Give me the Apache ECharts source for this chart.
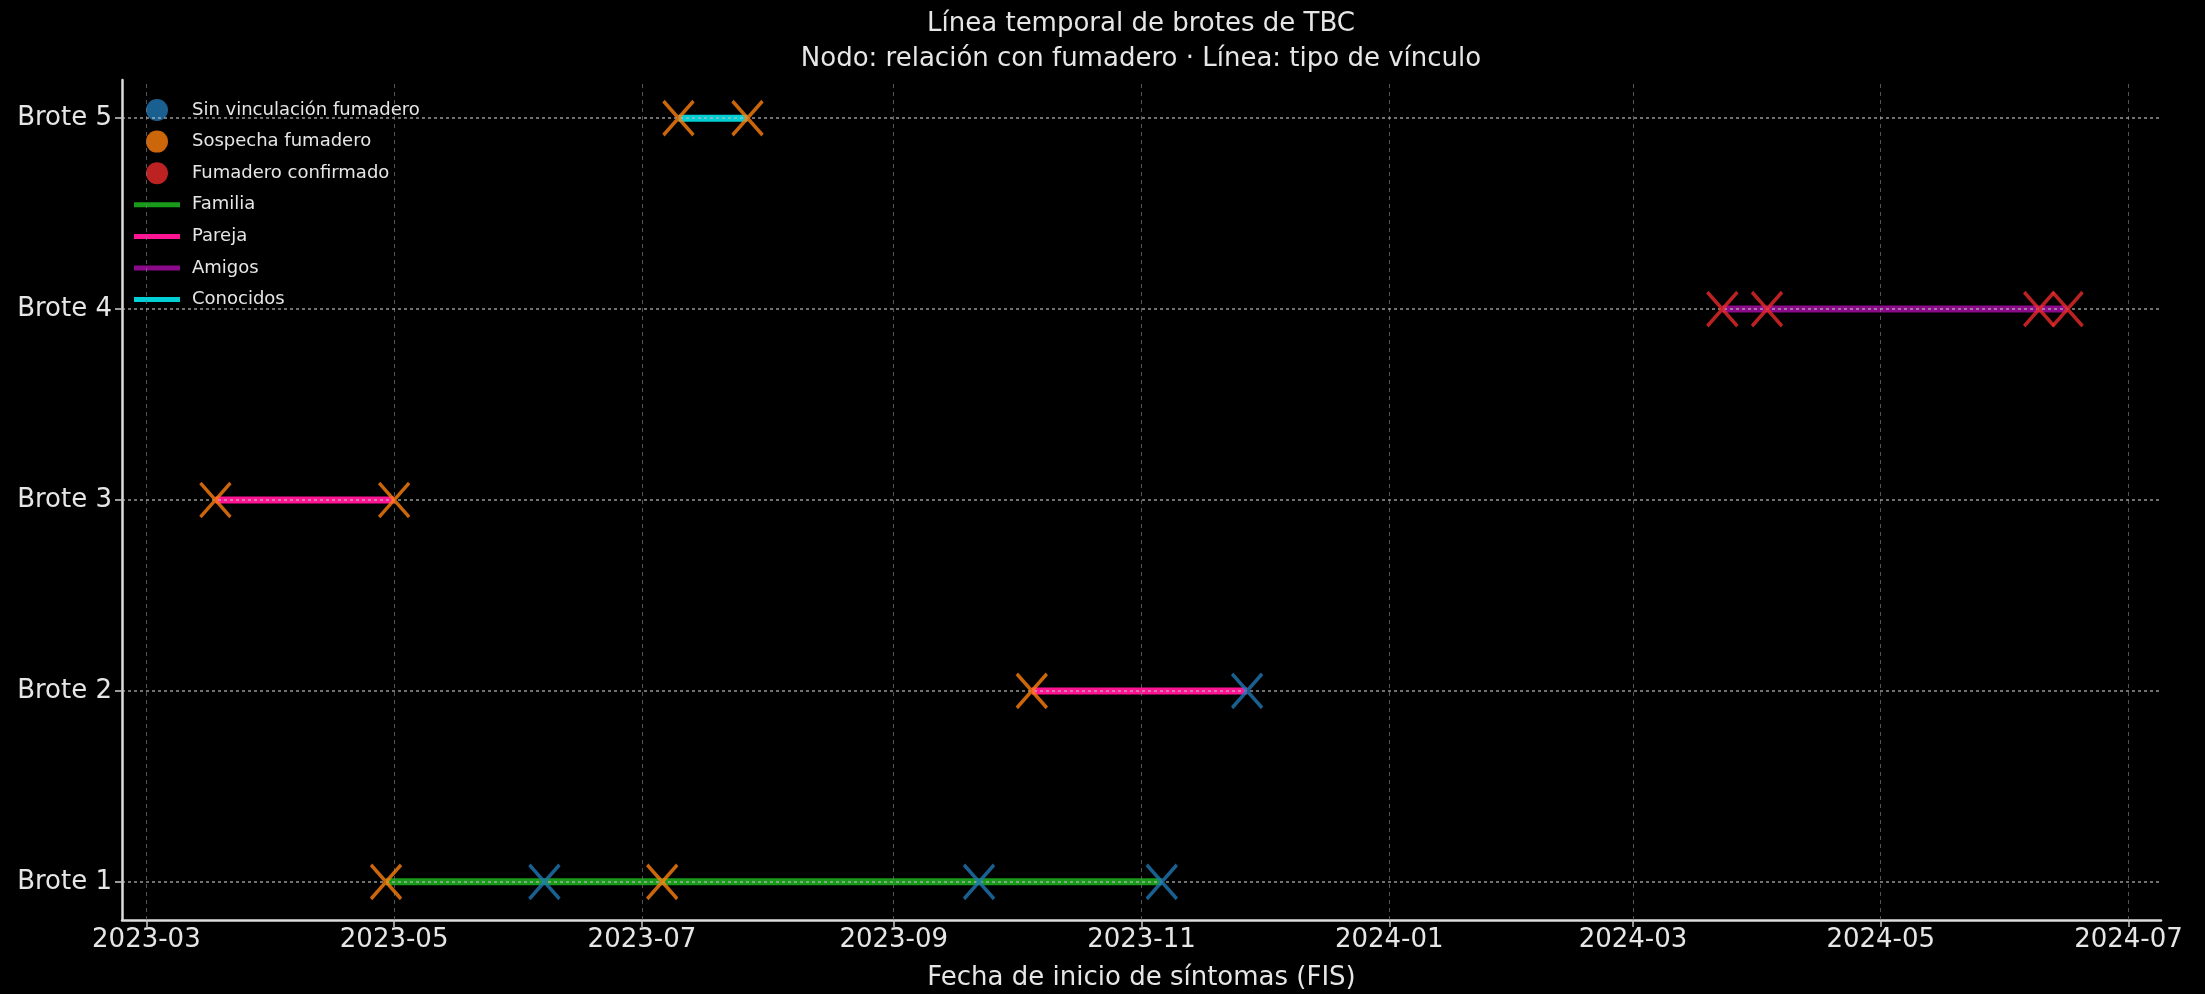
<!DOCTYPE html>
<html><head><meta charset="utf-8">
<script src="https://cdn.jsdelivr.net/npm/echarts@6/dist/echarts.min.js"></script>
<style>html,body{margin:0;padding:0;background:#000;}#c{width:2205px;height:994px;}</style>
</head><body><div id="c"></div>
<script>
// ---------- data ----------
const broteLabels = ['Brote 1', 'Brote 2', 'Brote 3', 'Brote 4', 'Brote 5'];
const broteLinks = ['Familia', 'Pareja', 'Pareja', 'Amigos', 'Conocidos'];
const caseBrote = [1, 1, 1, 1, 1, 2, 2, 3, 3, 4, 4, 4, 4, 5, 5];
const caseDate = ['2023-04-29', '2023-06-07', '2023-07-06', '2023-09-22', '2023-11-06',
                  '2023-10-05', '2023-11-27',
                  '2023-03-18', '2023-05-01',
                  '2024-03-23', '2024-04-03', '2024-06-09', '2024-06-16',
                  '2023-07-10', '2023-07-27'];
const caseStatus = ['Sospecha fumadero', 'Sin vinculación fumadero', 'Sospecha fumadero', 'Sin vinculación fumadero', 'Sin vinculación fumadero',
                    'Sospecha fumadero', 'Sin vinculación fumadero',
                    'Sospecha fumadero', 'Sospecha fumadero',
                    'Fumadero confirmado', 'Fumadero confirmado', 'Fumadero confirmado', 'Fumadero confirmado',
                    'Sospecha fumadero', 'Sospecha fumadero'];
const statusNames = ['Sin vinculación fumadero', 'Sospecha fumadero', 'Fumadero confirmado'];
const linkNames = ['Familia', 'Pareja', 'Amigos', 'Conocidos'];
const xTickLabels = ['2023-03', '2023-05', '2023-07', '2023-09', '2023-11', '2024-01', '2024-03', '2024-05', '2024-07'];
const xLimits = ['2023-02-23', '2024-07-09'];
const titleText = 'Línea temporal de brotes de TBC\nNodo: relación con fumadero · Línea: tipo de vínculo';
const xAxisTitle = 'Fecha de inicio de síntomas (FIS)';

// ---------- styles ----------
const statusColors = {'Sin vinculación fumadero': '#1f77b4', 'Sospecha fumadero': '#ff7f0e', 'Fumadero confirmado': '#ec2a2a'};
const linkColors = {'Familia': '#1a9a1a', 'Pareja': '#ff1493', 'Amigos': '#8a0a8a', 'Conocidos': '#00cfd5'};
const FONT = 'DejaVu Sans';
const TXT = '#e6e6e6';

function ts(s) { const p = s.split('-').map(Number); return Date.UTC(p[0], p[1] - 1, p[2] || 1); }
const xTickValues = xTickLabels.map(l => ts(l + '-01'));
const yTickValues = broteLabels.map((_, i) => i + 1);

const series = [];
// vertical grid lines
series.push({
  type: 'line', data: [], silent: true, z: 1,
  markLine: { silent: true, symbol: 'none', label: { show: false }, animation: false,
    lineStyle: { color: '#777', width: 1, type: [4, 4], opacity: 0.7 },
    data: xTickValues.map(v => ({ xAxis: v })) }
});
// link lines
broteLabels.forEach((b, i) => {
  const dates = caseDate.filter((d, k) => caseBrote[k] === i + 1).map(ts);
  const link = broteLinks[i];
  series.push({
    name: link, type: 'line', z: 2, showSymbol: false, symbol: 'none', silent: true,
    lineStyle: { color: linkColors[link], width: 7 }, itemStyle: { color: linkColors[link] },
    data: [[Math.min(...dates), i + 1], [Math.max(...dates), i + 1]]
  });
});
// horizontal grid lines (above lines)
series.push({
  type: 'line', data: [], silent: true, z: 3,
  markLine: { silent: true, symbol: 'none', label: { show: false }, animation: false,
    lineStyle: { color: '#bbb', width: 1.5, type: [3, 3], opacity: 0.8 },
    data: yTickValues.map(v => ({ yAxis: v })) }
});
// case markers
statusNames.forEach(st => {
  series.push({
    name: st, type: 'scatter', z: 5,
    symbol: 'path://M0,0L10,10M10,0L0,10', symbolSize: [30, 34],
    itemStyle: { color: statusColors[st], borderColor: statusColors[st], borderWidth: 3.5 },
    data: caseDate.map((d, k) => caseStatus[k] === st ? [ts(d), caseBrote[k]] : null).filter(x => x)
  });
});

const lineIcon = 'path://M0,0M0,22M0,8.5h46v5h-46z';
const chart = echarts.init(document.getElementById('c'), null, { renderer: 'canvas' });
chart.setOption({
  backgroundColor: '#000',
  animation: false,
  textStyle: { fontFamily: FONT },
  title: {
    text: titleText, left: 1141, top: 7, padding: 0, textAlign: 'center',
    textStyle: { color: TXT, fontSize: 26, fontWeight: 'normal', lineHeight: 35, fontFamily: FONT }
  },
  legend: {
    orient: 'vertical', left: 129, top: 94, itemWidth: 48, itemHeight: 22, itemGap: 9.6,
    itemStyle: { borderWidth: 0 },
    textStyle: { color: TXT, fontSize: 18, fontFamily: FONT, padding: [0, 0, 0, 6] },
    data: statusNames.map(n => ({ name: n, icon: 'circle', itemStyle: { borderWidth: 0 } }))
      .concat(linkNames.map(n => ({ name: n, icon: lineIcon, itemStyle: { borderWidth: 0 } })))
  },
  grid: { left: 122, right: 44, top: 80, bottom: 74, containLabel: false, outerBoundsMode: 'none' },
  xAxis: {
    type: 'value', min: ts(xLimits[0]), max: ts(xLimits[1]),
    name: xAxisTitle, nameLocation: 'middle', nameGap: 45,
    nameTextStyle: { color: TXT, fontSize: 26, fontFamily: FONT },
    axisLine: { show: true, lineStyle: { color: '#ddd', width: 2.5 } },
    axisTick: { show: true, customValues: xTickValues, length: 7, lineStyle: { color: '#ccc', width: 1.5 } },
    axisLabel: { customValues: xTickValues, color: TXT, fontSize: 26, fontFamily: FONT, margin: 7,
      formatter: v => { const i = xTickValues.indexOf(v); return i >= 0 ? xTickLabels[i] : ''; } },
    splitLine: { show: false }
  },
  yAxis: {
    type: 'value', min: 0.8, max: 5.2,
    axisLine: { show: true, lineStyle: { color: '#ddd', width: 2.5 } },
    axisTick: { show: true, customValues: yTickValues, length: 7, lineStyle: { color: '#ccc', width: 1.5 } },
    axisLabel: { customValues: yTickValues, color: TXT, fontSize: 26, fontFamily: FONT, margin: 10,
      formatter: v => { const i = yTickValues.indexOf(v); return i >= 0 ? broteLabels[i] : ''; } },
    splitLine: { show: false }
  },
  series: series
});
</script></body></html>
